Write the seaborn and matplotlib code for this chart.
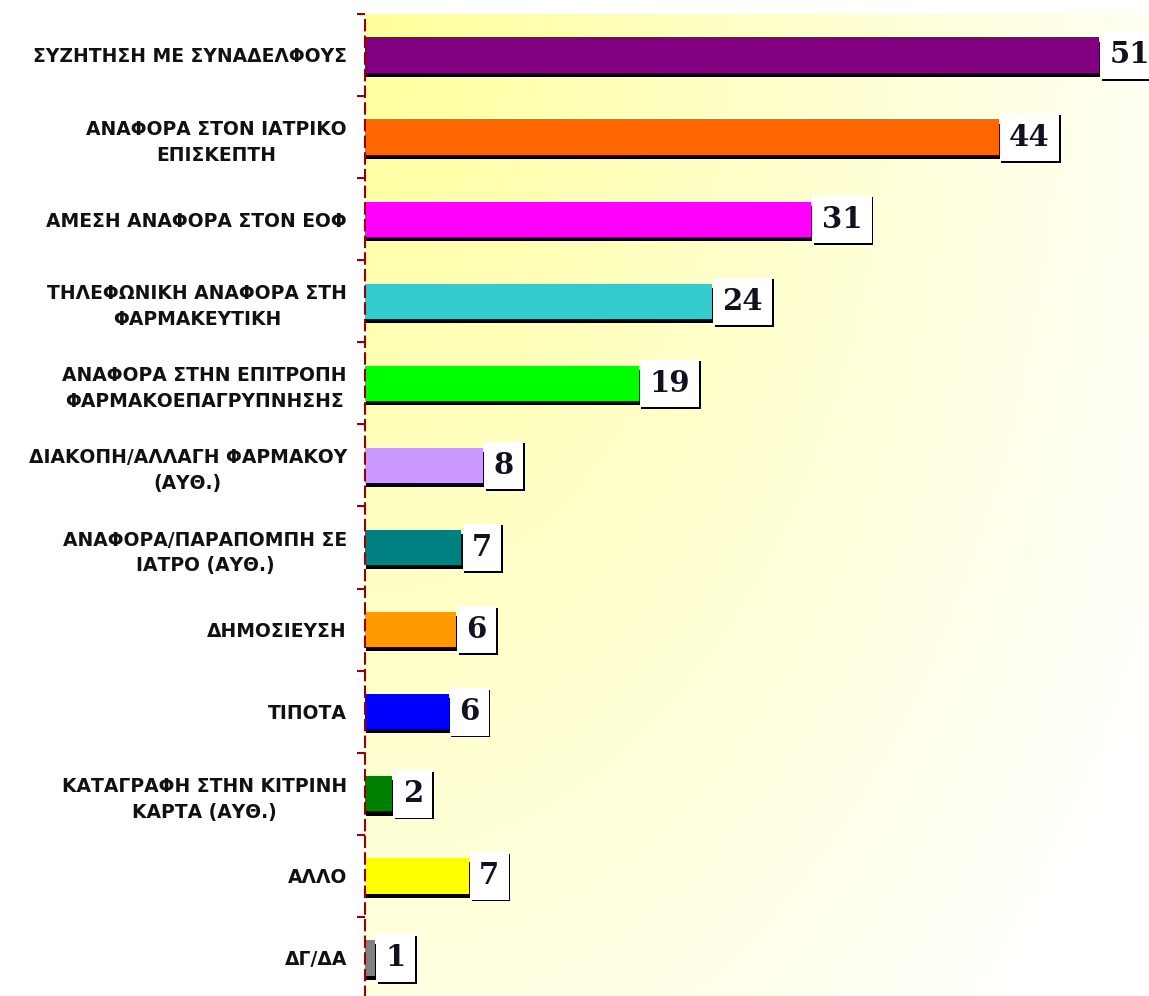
import numpy as np
import pandas as pd
import matplotlib
matplotlib.use("Agg")
import matplotlib.pyplot as plt
import matplotlib.patheffects as pe
from matplotlib.colors import LinearSegmentedColormap
import seaborn as sns

categories = [
    "ΣΥΖΗΤΗΣΗ ΜΕ ΣΥΝΑΔΕΛΦΟΥΣ",
    "ΑΝΑΦΟΡΑ ΣΤΟΝ ΙΑΤΡΙΚΟ\nΕΠΙΣΚΕΠΤΗ",
    "ΑΜΕΣΗ ΑΝΑΦΟΡΑ ΣΤΟΝ ΕΟΦ",
    "ΤΗΛΕΦΩΝΙΚΗ ΑΝΑΦΟΡΑ ΣΤΗ\nΦΑΡΜΑΚΕΥΤΙΚΗ",
    "ΑΝΑΦΟΡΑ ΣΤΗΝ ΕΠΙΤΡΟΠΗ\nΦΑΡΜΑΚΟΕΠΑΓΡΥΠΝΗΣΗΣ",
    "ΔΙΑΚΟΠΗ/ΑΛΛΑΓΗ ΦΑΡΜΑΚΟΥ\n(ΑΥΘ.)",
    "ΑΝΑΦΟΡΑ/ΠΑΡΑΠΟΜΠΗ ΣΕ\nΙΑΤΡΟ (ΑΥΘ.)",
    "ΔΗΜΟΣΙΕΥΣΗ",
    "ΤΙΠΟΤΑ",
    "ΚΑΤΑΓΡΑΦΗ ΣΤΗΝ ΚΙΤΡΙΝΗ\nΚΑΡΤΑ (ΑΥΘ.)",
    "ΑΛΛΟ",
    "ΔΓ/ΔΑ",
]
# bar lengths (labels show them rounded)
values = [51, 44, 31, 24.1, 19, 8.2, 6.7, 6.3, 5.8, 1.9, 7.2, 0.7]
labels = ["51", "44", "31", "24", "19", "8", "7", "6", "6", "2", "7", "1"]
colors = ["#800080", "#FF6600", "#FF00FF", "#33CCCC", "#00FF00", "#CC99FF",
          "#008080", "#FF9900", "#0000FF", "#008000", "#FFFF00", "#808080"]

df = pd.DataFrame({"cat": categories, "val": values})

sns.set_style("white")
plt.rcParams["font.family"] = ["DejaVu Sans"]

fig = plt.figure(figsize=(11.49, 9.96), dpi=100)
ax = fig.add_axes([365 / 1149, -0.003, 1 - 365 / 1149, 0.989])

sns.barplot(data=df, x="val", y="cat", hue="cat", palette=colors, orient="h",
            width=0.43, saturation=1, legend=False, ax=ax, zorder=3,
            linewidth=0, edgecolor="none")

xmax = 784 / 14.4
n = len(categories)

# yellow-to-white background wash
gx, gy = np.meshgrid(np.linspace(0, 1, 300), np.linspace(0, 1, 300))
t = np.clip(np.sqrt((gx * 0.95) ** 2 + (gy * 0.75) ** 2) / 1.1, 0, 1) ** 0.9
cmap = LinearSegmentedColormap.from_list("wash", ["#FFFF99", "#FFFFFF"])
ax.imshow(t, cmap=cmap, extent=[0, xmax, n - 0.5, -0.5], aspect="auto",
          zorder=0, vmin=0, vmax=1)

ax.set_xlim(0, xmax)
ax.set_ylim(n - 0.5, -0.5)

for bar in ax.patches:
    bar.set_path_effects([pe.SimplePatchShadow(offset=(1, -3), shadow_rgbFace="black", alpha=1),
                          pe.Normal()])

for i, (v, lab) in enumerate(zip(values, labels)):
    txt = ax.annotate(lab, xy=(v, i), xytext=(7.5, 0), textcoords="offset points",
                      ha="left", va="center", fontsize=21, fontweight="bold",
                      family="DejaVu Serif", color="#111122", zorder=5,
                      bbox=dict(boxstyle="square,pad=0.32", facecolor="white", edgecolor="none"))
    txt.get_bbox_patch().set_path_effects([
        pe.SimplePatchShadow(offset=(1.3, -1.3), shadow_rgbFace="black", alpha=1),
        pe.Normal()])

ax.set_xlabel("")
ax.set_ylabel("")
ax.set_xticks([])
for s in ["top", "right", "bottom"]:
    ax.spines[s].set_visible(False)
ax.spines["left"].set_color("#990000")
ax.spines["left"].set_linewidth(1.5)
ax.spines["left"].set_linestyle((0, (5, 3)))
ax.spines["left"].set_zorder(4)

ax.set_yticks(np.arange(-0.5, n, 1), minor=True)
ax.tick_params(axis="y", which="minor", left=True, length=6, width=1.5,
               color="#990000", direction="out")
ax.tick_params(axis="y", which="major", left=False, length=0, pad=13)
for tl in ax.get_yticklabels():
    tl.set_fontsize(13.5)
    tl.set_fontweight("bold")
    tl.set_color("#111111")
    tl.set_multialignment("center")
    tl.set_linespacing(1.45)

fig.savefig("out.png", dpi=100, facecolor="white")
